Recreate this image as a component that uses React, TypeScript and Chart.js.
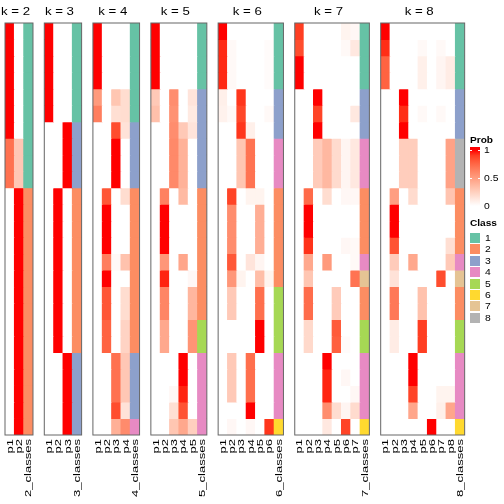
import React, { useEffect, useRef } from "react";
import { Chart, registerables } from "chart.js";

Chart.register(...registerables);

const FONT = "'Liberation Sans', Arial, sans-serif";
Chart.defaults.font.family = FONT;

// ---------- data ----------
const CLASS_COLORS = ["#66C2A5", "#FC8D62", "#8DA0CB", "#E78AC3", "#A6D854", "#FFD92F", "#E5C494", "#B3B3B3"];
const CLASS_LABELS = ["1", "2", "3", "4", "5", "6", "7", "8"];
const PROB_TICKS = ["1", "0.5", "0"];
const ROW_COUNT = 25;

const K2_PROBS = [
  [1, 0], [1, 0], [1, 0], [1, 0], [1, 0], [1, 0], [1, 0],
  [0.71, 0.29], [0.71, 0.29], [0.71, 0.29],
  [0, 1], [0, 1], [0, 1], [0, 1], [0, 1], [0, 1], [0, 1], [0, 1],
  [0, 1], [0, 1], [0, 1], [0, 1], [0, 1], [0, 1], [0, 1],
];
const K2_CLASS = [1, 1, 1, 1, 1, 1, 1, 1, 1, 1, 2, 2, 2, 2, 2, 2, 2, 2, 2, 2, 2, 2, 2, 2, 2];

const K3_PROBS = [
  [1, 0, 0], [1, 0, 0], [1, 0, 0], [1, 0, 0], [1, 0, 0], [1, 0, 0],
  [0, 0, 1], [0, 0, 1], [0, 0, 1], [0, 0, 1],
  [0, 1, 0], [0, 1, 0], [0, 1, 0], [0, 1, 0], [0, 1, 0],
  [0, 1, 0], [0, 1, 0], [0, 1, 0], [0, 1, 0], [0, 1, 0],
  [0, 0, 1], [0, 0, 1], [0, 0, 1], [0, 0, 1], [0, 0, 1],
];
const K3_CLASS = [1, 1, 1, 1, 1, 1, 3, 3, 3, 3, 2, 2, 2, 2, 2, 2, 2, 2, 2, 2, 3, 3, 3, 3, 3];

const K4_PROBS = [
  [1, 0, 0, 0], [1, 0, 0, 0], [1, 0, 0, 0], [1, 0, 0, 0],
  [0.52, 0, 0.3, 0.18], [0.65, 0, 0.17, 0.18],
  [0, 0, 0.85, 0.15], [0, 0, 1, 0], [0, 0, 1, 0], [0, 0, 1, 0],
  [0, 0.82, 0, 0.18], [0, 1, 0, 0], [0, 1, 0, 0], [0, 1, 0, 0],
  [0, 0.65, 0.03, 0.32], [0, 1, 0, 0],
  [0, 0.82, 0, 0.18], [0, 0.82, 0, 0.18], [0, 0.77, 0, 0.23], [0, 0.77, 0, 0.23],
  [0, 0, 0.71, 0.29], [0, 0, 0.71, 0.29], [0, 0, 0.71, 0.29],
  [0, 0, 0.85, 0.15], [0, 0, 0.41, 0.59],
];
const K4_CLASS = [1, 1, 1, 1, 1, 1, 3, 3, 3, 3, 2, 2, 2, 2, 2, 2, 2, 2, 2, 2, 3, 3, 3, 3, 4];

const K5_PROBS = [
  [1, 0, 0, 0, 0], [1, 0, 0, 0, 0], [1, 0, 0, 0, 0], [1, 0, 0, 0, 0],
  [0.28, 0, 0.58, 0, 0.14], [0.33, 0, 0.56, 0, 0.11], [0, 0, 0.58, 0.28, 0.14],
  [0, 0, 0.6, 0.4, 0], [0, 0, 0.6, 0.4, 0], [0, 0, 0.6, 0.4, 0],
  [0, 0.64, 0, 0.36, 0], [0, 1, 0, 0, 0], [0, 1, 0, 0, 0], [0, 1, 0, 0, 0],
  [0, 0.54, 0, 0.46, 0], [0, 0.96, 0, 0, 0.04],
  [0, 0.62, 0, 0, 0.38], [0, 0.62, 0, 0, 0.38],
  [0, 0.45, 0, 0, 0.55], [0, 0.45, 0, 0, 0.55],
  [0, 0, 0, 1, 0], [0, 0, 0, 1, 0], [0, 0, 0.04, 0.96, 0],
  [0, 0, 0.17, 0.83, 0], [0, 0, 0.3, 0.45, 0.25],
];
const K5_CLASS = [1, 1, 1, 1, 3, 3, 3, 3, 3, 3, 2, 2, 2, 2, 2, 2, 2, 2, 5, 5, 4, 4, 4, 4, 4];

const K6_PROBS = [
  [1, 0, 0, 0, 0, 0],
  [0.95, 0.03, 0, 0, 0, 0.02], [0.95, 0.03, 0, 0, 0, 0.02], [0.95, 0.03, 0, 0, 0, 0.02],
  [0.08, 0, 0.92, 0, 0, 0], [0.07, 0.03, 0.87, 0, 0, 0.03], [0, 0, 0.92, 0.08, 0, 0],
  [0, 0, 0.3, 0.7, 0, 0], [0, 0, 0.3, 0.7, 0, 0], [0, 0, 0.3, 0.7, 0, 0],
  [0, 0.88, 0, 0.06, 0.06, 0],
  [0, 0.58, 0, 0, 0.42, 0], [0, 0.58, 0, 0, 0.42, 0], [0, 0.58, 0, 0, 0.42, 0],
  [0, 0.81, 0, 0.14, 0.05, 0], [0, 0.54, 0.06, 0, 0.34, 0.06],
  [0, 0.28, 0, 0, 0.72, 0], [0, 0.28, 0, 0, 0.72, 0],
  [0, 0, 0, 0, 1, 0], [0, 0, 0, 0, 1, 0],
  [0, 0.28, 0, 0.72, 0, 0], [0, 0.28, 0, 0.72, 0, 0], [0, 0.28, 0, 0.72, 0, 0],
  [0, 0, 0, 1, 0, 0], [0, 0.04, 0, 0.04, 0, 0.92],
];
const K6_CLASS = [1, 1, 1, 1, 3, 3, 3, 4, 4, 4, 2, 2, 2, 2, 2, 2, 5, 5, 5, 5, 4, 4, 4, 4, 6];

const K7_PROBS = [
  [0.9, 0, 0, 0, 0, 0.06, 0.04], [0.85, 0, 0, 0, 0, 0.03, 0.12],
  [1, 0, 0, 0, 0, 0, 0], [1, 0, 0, 0, 0, 0, 0],
  [0, 0, 1, 0, 0, 0, 0], [0, 0, 0.88, 0, 0, 0, 0.12], [0, 0, 1, 0, 0, 0, 0],
  [0, 0, 0.27, 0.37, 0.19, 0.05, 0.12], [0, 0, 0.27, 0.37, 0.19, 0.05, 0.12], [0, 0, 0.27, 0.37, 0.19, 0.05, 0.12],
  [0, 0.74, 0, 0.18, 0, 0.04, 0.04], [0, 1, 0, 0, 0, 0, 0], [0, 1, 0, 0, 0, 0, 0],
  [0, 0.93, 0, 0, 0, 0.04, 0.03], [0, 0.45, 0, 0.52, 0, 0, 0.03], [0, 0.3, 0, 0, 0, 0, 0.7],
  [0, 0.73, 0, 0, 0.27, 0, 0], [0, 0.73, 0, 0, 0.27, 0, 0],
  [0, 0.2, 0, 0, 0.8, 0, 0], [0, 0.2, 0, 0, 0.78, 0.02, 0],
  [0, 0, 0, 1, 0, 0, 0], [0, 0, 0, 0.96, 0, 0.04, 0], [0, 0, 0, 0.96, 0, 0, 0.04],
  [0, 0, 0, 0.58, 0.18, 0.05, 0.19], [0, 0, 0, 0.12, 0, 0.88, 0],
];
const K7_CLASS = [1, 1, 1, 1, 3, 3, 3, 4, 4, 4, 2, 2, 2, 2, 4, 7, 2, 2, 5, 5, 4, 4, 4, 4, 6];

const K8_PROBS = [
  [1, 0, 0, 0, 0, 0, 0, 0], [0.94, 0, 0, 0, 0.03, 0, 0.03, 0],
  [0.77, 0, 0, 0, 0.08, 0, 0.05, 0.1], [0.77, 0, 0, 0, 0.08, 0, 0.05, 0.1],
  [0, 0, 1, 0, 0, 0, 0, 0], [0, 0, 0.94, 0, 0.03, 0, 0.03, 0], [0, 0, 1, 0, 0, 0, 0, 0],
  [0, 0, 0.26, 0.26, 0, 0, 0, 0.48], [0, 0, 0.26, 0.26, 0, 0, 0, 0.48], [0, 0, 0.26, 0.26, 0, 0, 0, 0.48],
  [0, 0.5, 0, 0.19, 0, 0, 0, 0.31], [0, 1, 0, 0, 0, 0, 0, 0], [0, 1, 0, 0, 0, 0, 0, 0],
  [0, 0.83, 0, 0, 0, 0, 0, 0.17], [0, 0.27, 0, 0.45, 0, 0, 0, 0.28], [0, 0.15, 0, 0, 0, 0, 0.85, 0],
  [0, 0.68, 0, 0, 0.32, 0, 0, 0], [0, 0.68, 0, 0, 0.32, 0, 0, 0],
  [0, 0.1, 0, 0, 0.9, 0, 0, 0], [0, 0.1, 0, 0, 0.9, 0, 0, 0],
  [0, 0, 0, 1, 0, 0, 0, 0], [0, 0, 0, 1, 0, 0, 0, 0], [0, 0, 0, 0.88, 0, 0, 0.06, 0.06],
  [0, 0, 0, 0.46, 0, 0, 0.08, 0.46], [0, 0, 0, 0, 0, 1, 0, 0],
];
const K8_CLASS = [1, 1, 1, 1, 3, 3, 3, 8, 8, 8, 2, 2, 2, 2, 4, 7, 2, 2, 5, 5, 4, 4, 4, 4, 6];

const PANELS = [
  { k: 2, probs: K2_PROBS, classes: K2_CLASS },
  { k: 3, probs: K3_PROBS, classes: K3_CLASS },
  { k: 4, probs: K4_PROBS, classes: K4_CLASS },
  { k: 5, probs: K5_PROBS, classes: K5_CLASS },
  { k: 6, probs: K6_PROBS, classes: K6_CLASS },
  { k: 7, probs: K7_PROBS, classes: K7_CLASS },
  { k: 8, probs: K8_PROBS, classes: K8_CLASS },
];

// ---------- layout ----------
const W = 504;
const H = 504;
const COL_W = 9.33;
const GAP = 11.3;
const FIRST_LEFT = 5;
const TOP = 23;
const BOTTOM = 435;

// ---------- colour: white -> red interpolated in CIE LAB ----------
function labToHex(L: number, a: number, b: number) {
  const fy = (L + 16) / 116;
  const fx = fy + a / 500;
  const fz = fy - b / 200;
  const finv = (t: number) => (t > 6 / 29 ? t * t * t : 3 * (6 / 29) * (6 / 29) * (t - 4 / 29));
  const X = 0.95047 * finv(fx);
  const Y = finv(fy);
  const Z = 1.08883 * finv(fz);
  const lin = [
    3.2404542 * X - 1.5371385 * Y - 0.4985314 * Z,
    -0.969266 * X + 1.8760108 * Y + 0.041556 * Z,
    0.0556434 * X - 0.2040259 * Y + 1.0572252 * Z,
  ];
  const ch = lin.map((c) => {
    const v = c <= 0.0031308 ? 12.92 * c : 1.055 * Math.pow(Math.max(c, 0), 1 / 2.4) - 0.055;
    const n = Math.round(Math.min(1, Math.max(0, v)) * 255);
    return n.toString(16).padStart(2, "0");
  });
  return "#" + ch.join("");
}
function probColor(p: number) {
  return labToHex(100 + (53.2408 - 100) * p, 80.0925 * p, 67.2032 * p);
}

const boxPlugin = {
  id: "panelBox",
  afterDatasetsDraw(chart: any) {
    const { ctx, chartArea } = chart;
    ctx.save();
    ctx.strokeStyle = "#666";
    ctx.lineWidth = 1;
    ctx.strokeRect(chartArea.left, chartArea.top, chartArea.right - chartArea.left, chartArea.bottom - chartArea.top);
    ctx.restore();
  },
};

const titlePlugin = {
  id: "panelTitle",
  afterDraw(chart: any, _args: any, opts: any) {
    const { ctx, chartArea } = chart;
    ctx.save();
    ctx.translate((chartArea.left + chartArea.right) / 2 + opts.dx, opts.baseline);
    ctx.scale(opts.stretch, 1);
    ctx.font = `${opts.size}px ${FONT}`;
    ctx.fillStyle = "#000";
    ctx.textAlign = "center";
    ctx.textBaseline = "alphabetic";
    ctx.fillText(opts.text, 0, 0);
    ctx.restore();
  },
};

// column names drawn at the x scale's own tick positions, rotated 90 degrees
const colNamePlugin = {
  id: "colNames",
  afterDraw(chart: any, _args: any, opts: any) {
    const { ctx } = chart;
    const xs = chart.scales.x;
    const labels: string[] = chart.data.labels;
    labels.forEach((lab, i) => {
      const x = xs.getPixelForTick(i);
      ctx.save();
      ctx.translate(x + opts.dx, xs.top + opts.pad);
      ctx.rotate(-Math.PI / 2);
      ctx.scale(opts.stretch, 1);
      ctx.font = `${opts.size}px ${FONT}`;
      ctx.fillStyle = "#000";
      ctx.textAlign = "right";
      ctx.textBaseline = "middle";
      ctx.fillText(lab, 0, 0);
      ctx.restore();
    });
  },
};

function HeatPanel({ k, probs, classes, left }: { k: number; probs: number[][]; classes: number[]; left: number }) {
  const ref = useRef<HTMLCanvasElement>(null);
  const width = (k + 1) * COL_W;
  const cLeft = Math.floor(left) - 10;
  const cWidth = Math.ceil(left + width) + 10 - cLeft;
  const padL = left - cLeft;
  const padR = cWidth - padL - width;

  useEffect(() => {
    const labels: string[] = [];
    for (let i = 1; i <= k; i++) labels.push("p" + i);
    labels.push(k + "_classes");
    const datasets = probs.map((row, r) => ({
      data: labels.map(() => [r, r + 1]),
      backgroundColor: [...row.map(probColor), CLASS_COLORS[classes[r] - 1]],
      borderWidth: 0,
      grouped: false,
      barPercentage: 1,
      categoryPercentage: 1,
      inflateAmount: 0.4,
    }));
    const chart = new Chart(ref.current as HTMLCanvasElement, {
      type: "bar",
      data: { labels, datasets: datasets as any },
      options: {
        animation: false,
        responsive: false,
        devicePixelRatio: 1,
        events: [],
        layout: { padding: { left: padL, right: padR, top: TOP, bottom: 0 } },
        plugins: {
          legend: { display: false },
          tooltip: { enabled: false },
          title: { display: false },
          panelTitle: { text: `k = ${k}`, size: 11.5, stretch: 1.15, dx: -3.5, baseline: 15 },
          colNames: { size: 9, stretch: 1.45, pad: 4, dx: 0.5 },
        } as any,
        scales: {
          x: {
            offset: true,
            grid: { display: false, drawTicks: false },
            border: { display: false },
            ticks: { display: false },
            afterFit: (s: any) => {
              s.height = H - BOTTOM;
            },
          },
          y: { display: false, min: 0, max: ROW_COUNT, reverse: true },
        },
      },
      plugins: [boxPlugin, titlePlugin, colNamePlugin],
    });
    return () => chart.destroy();
  }, []);

  return (
    <canvas
      ref={ref}
      width={cWidth}
      height={H}
      style={{ position: "absolute", left: cLeft, top: 0, width: cWidth, height: H }}
    />
  );
}

function LegendText({ x, y, text, bold }: { x: number; y: number; text: string; bold?: boolean }) {
  return (
    <div
      style={{
        position: "absolute",
        left: x,
        top: y - 7,
        fontSize: bold ? 8.8 : 9,
        fontWeight: bold ? "bold" : "normal",
        lineHeight: "14px",
        whiteSpace: "nowrap",
        transform: "scaleX(1.15)",
        transformOrigin: "left center",
      }}
    >
      {text}
    </div>
  );
}

function Legend() {
  const stops: string[] = [];
  for (let i = 0; i <= 10; i++) {
    const p = 1 - i / 10;
    stops.push(`${probColor(p)} ${3 + (1 - p) * 56}px`);
  }
  const grad = `linear-gradient(to bottom, ${stops.join(", ")})`;
  const tickY = [150, 178, 206];
  return (
    <div style={{ position: "absolute", left: 0, top: 0, width: W, height: H, fontFamily: FONT, pointerEvents: "none" }}>
      <LegendText x={470} y={140} text="Prob" bold />
      <div style={{ position: "absolute", left: 470, top: 147, width: 10, height: 60, background: grad }} />
      {tickY.slice(0, 2).map((y, i) => (
        <React.Fragment key={i}>
          <div style={{ position: "absolute", left: 470, top: y - 0.5, width: 2, height: 1, background: "#fff" }} />
          <div style={{ position: "absolute", left: 478, top: y - 0.5, width: 2, height: 1, background: "#fff" }} />
        </React.Fragment>
      ))}
      {PROB_TICKS.map((t, i) => (
        <LegendText key={t} x={484} y={tickY[i]} text={t} />
      ))}
      <LegendText x={470} y={223} text="Class" bold />
      {CLASS_LABELS.map((c, i) => (
        <React.Fragment key={c}>
          <div style={{ position: "absolute", left: 470, top: 233 + i * 11.4, width: 10, height: 10, background: CLASS_COLORS[i] }} />
          <LegendText x={485} y={238 + i * 11.4} text={c} />
        </React.Fragment>
      ))}
    </div>
  );
}

export default function App() {
  let left = FIRST_LEFT;
  const lefts: number[] = [];
  PANELS.forEach((p) => {
    lefts.push(left);
    left += (p.k + 1) * COL_W + GAP;
  });
  return (
    <div style={{ position: "absolute", left: 0, top: 0, width: W, height: H, background: "#fff", overflow: "hidden" }}>
      {PANELS.map((p, i) => (
        <HeatPanel key={p.k} k={p.k} probs={p.probs} classes={p.classes} left={lefts[i]} />
      ))}
      <Legend />
    </div>
  );
}
